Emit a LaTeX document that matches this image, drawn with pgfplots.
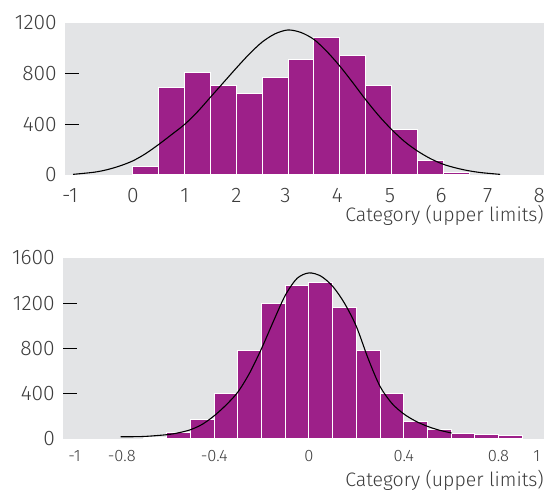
\documentclass[border=0pt]{standalone}
\usepackage{fontspec}
\setmainfont{Fira Sans Light}
\usepackage{pgfplots}
\pgfplotsset{compat=1.18}
\definecolor{barpurple}{RGB}{157,32,137}
\definecolor{bggrey}{RGB}{227,228,230}
\definecolor{txt}{RGB}{60,60,60}
\begin{document}
\begin{tikzpicture}
\useasboundingbox (0,0) rectangle (544pt,494pt);
\pgfplotsset{
  hist/.style={
    scale only axis, anchor=south west,
    axis background/.style={fill=bggrey},
    axis line style={draw=none},
    xtick style={draw=none},
    ytick pos=left, xtick pos=bottom,
    tick align=inside,
    major tick length=14pt,
    ytick style={draw=black, line width=0.9pt},
    extra y tick style={major tick length=0pt},
    yticklabel style={anchor=east, inner sep=0pt, xshift=-8pt, text=txt, font=\fontsize{21}{21}\selectfont},
    xlabel={Category (upper limits)},
    xlabel style={at={(rel axis cs:1,0)}, anchor=base east, inner sep=0pt, text=txt, font=\fontsize{19.5}{19.5}\selectfont},
  }
}
% ---------- top histogram ----------
\begin{axis}[hist,
  at={(65pt,319pt)}, width=479pt, height=152pt,
  xmin=-1.315, xmax=7.95, ymin=0, ymax=1200,
  xtick={-1.22,0,1,2,2.95,3.95,4.97,5.96,6.86,7.86},
  xticklabels={-1,0,1,2,3,4,5,6,7,8},
  xticklabel style={anchor=base, inner sep=0pt, yshift=-28pt, text=txt, font=\fontsize{21}{21}\selectfont},
  ytick={400,800}, yticklabels={400,800},
  extra y ticks={0,1200}, extra y tick labels={0,1200},
  xlabel style={yshift=-47pt},
]
\addplot[ybar interval, fill=barpurple, draw=white, line width=1pt] coordinates {
  (0,66) (0.5,692) (1,813) (1.5,708) (2,645) (2.5,771) (3,913) (3.5,1084)
  (4,942) (4.5,708) (5,361) (5.5,118) (6,21) (6.5,0)
};
\addplot[black, line width=1.1pt, smooth] coordinates {
  (-1.16,5) (-0.75,22) (-0.5,42) (-0.25,72) (0,112) (0.25,170) (0.5,242)
  (0.75,320) (1,400) (1.25,500) (1.5,615) (1.75,730) (2,845) (2.25,955)
  (2.5,1050) (2.75,1115) (3,1145) (3.25,1125) (3.5,1070) (3.75,975)
  (4,860) (4.25,730) (4.5,595) (4.75,470) (5,360) (5.25,265) (5.5,190)
  (5.75,130) (6,85) (6.25,55) (6.5,33) (6.75,18) (7.1,5)
};
\end{axis}
% ---------- bottom histogram ----------
\begin{axis}[hist,
  at={(63pt,55pt)}, width=481pt, height=181pt,
  xmin=-1.038, xmax=0.992, ymin=0, ymax=1600,
  xtick={-0.989,-0.79,-0.4,0,0.4,0.8,0.962},
  xticklabels={-1,-0.8,-0.4,0,0.4,0.8,1},
  xticklabel style={anchor=base, inner sep=0pt, yshift=-23pt, text=txt, font=\fontsize{16.5}{16.5}\selectfont},
  ytick={400,800,1200}, yticklabels={400,800,1200},
  extra y ticks={0,1600}, extra y tick labels={0,1600},
  xlabel style={yshift=-48pt},
]
\addplot[ybar interval, fill=barpurple, draw=white, line width=1pt] coordinates {
  (-0.7,14) (-0.6,60) (-0.5,168) (-0.4,398) (-0.3,784) (-0.2,1202)
  (-0.1,1355) (0,1379) (0.1,1158) (0.2,784) (0.3,398) (0.4,153)
  (0.5,82) (0.6,47) (0.7,38) (0.8,35) (0.9,0)
};
\addplot[black, line width=1.1pt, smooth] coordinates {
  (-0.795,20) (-0.7,22) (-0.6,38) (-0.55,55) (-0.5,82) (-0.45,130)
  (-0.4,205) (-0.35,300) (-0.3,415) (-0.25,585) (-0.2,800) (-0.15,1040)
  (-0.1,1270) (-0.05,1420) (0,1468) (0.05,1440) (0.1,1350) (0.15,1200)
  (0.2,995) (0.25,710) (0.3,465) (0.35,315) (0.4,222) (0.45,158)
  (0.5,112) (0.55,78) (0.602,53)
};
\end{axis}
\end{tikzpicture}
\end{document}
